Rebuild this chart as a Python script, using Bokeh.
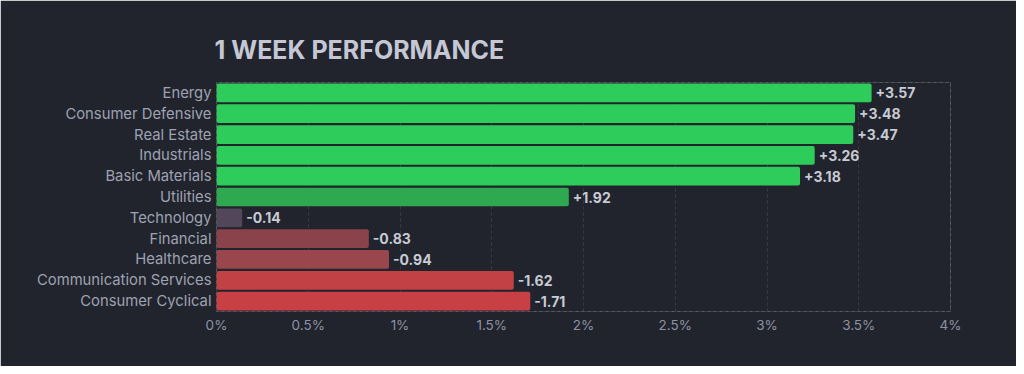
from bokeh.plotting import figure
from bokeh.models import ColumnDataSource, FactorRange, Range1d, FixedTicker
from bokeh.core.properties import value
from bokeh.embed import file_html
from bokeh.resources import INLINE

# ---- data ----
sectors = ["Energy", "Consumer Defensive", "Real Estate", "Industrials", "Basic Materials",
           "Utilities", "Technology", "Financial", "Healthcare", "Communication Services",
           "Consumer Cyclical"]
changes = [3.57, 3.48, 3.47, 3.26, 3.18, 1.92, -0.14, -0.83, -0.94, -1.62, -1.71]
tick_values = [0, 0.5, 1, 1.5, 2, 2.5, 3, 3.5, 4]
tick_labels = ["0%", "0.5%", "1%", "1.5%", "2%", "2.5%", "3%", "3.5%", "4%"]
title_text = "1 WEEK PERFORMANCE"

# ---- styles ----
bar_colors = ["#2ecc5a", "#2ecc5a", "#2ecc5a", "#2ecc5a", "#2ecc5a", "#2fa94f",
              "#51465a", "#8a424b", "#9a464d", "#c24145", "#c83f44"]
BG = "#21242c"
GRID = "#383c48"

src = ColumnDataSource(dict(
    sector=sectors,
    mag=[abs(v) for v in changes],
    label=[("+%.2f" % v) if v >= 0 else ("%.2f" % v) for v in changes],
    color=bar_colors,
))

p = figure(width=1016, height=366, output_backend="svg", toolbar_location=None,
           y_range=FactorRange(factors=list(reversed(sectors))),
           x_range=Range1d(0, 4),
           min_border_left=216, min_border_right=66, min_border_top=82, min_border_bottom=55)
p.background_fill_color = BG
p.border_fill_color = BG
p.outline_line_color = GRID
p.outline_line_dash = "3 3"
p.outline_line_width = 1

p.title.text = title_text
p.title.text_font = "Inter"
p.title.text_font_size = "25px"
p.title.text_font_style = "bold"
p.title.text_color = "#c5c8d4"
p.title.align = "left"
p.title.offset = -2
p.title.standoff = 35

p.hbar(y="sector", left=0, right="mag", height=0.9, source=src,
       fill_color="color", line_color=None, border_radius=2)

p.text(x="mag", y="sector", text="label", source=src, x_offset=4,
       text_baseline="middle", text_align="left",
       text_font=value("Inter"), text_font_size="14px", text_font_style="bold",
       text_color="#c8cad4")

# axes
xa = p.xaxis[0]
xa.ticker = FixedTicker(ticks=tick_values)
xa.major_label_overrides = {t: l for t, l in zip(tick_values, tick_labels)}
xa.axis_line_color = None
xa.major_tick_line_color = None
xa.minor_tick_line_color = None
xa.major_tick_out = 0
xa.major_tick_in = 0
xa.minor_tick_out = 0
xa.major_label_text_color = "#8e92a3"
xa.major_label_text_font = "Inter"
xa.major_label_text_font_size = "13.5px"
xa.major_label_standoff = 5

ya = p.yaxis[0]
ya.axis_line_color = None
ya.major_tick_line_color = None
ya.minor_tick_line_color = None
ya.major_tick_out = 0
ya.major_tick_in = 0
ya.minor_tick_out = 0
ya.major_label_text_color = "#9ea2b2"
ya.major_label_text_font = "Inter"
ya.major_label_text_font_size = "14.8px"
ya.major_label_standoff = 5

p.xgrid.grid_line_color = GRID
p.xgrid.grid_line_dash = "3 3"
p.xgrid.ticker = FixedTicker(ticks=tick_values)
p.ygrid.grid_line_color = None

open("out.html", "w").write(file_html(p, INLINE))
